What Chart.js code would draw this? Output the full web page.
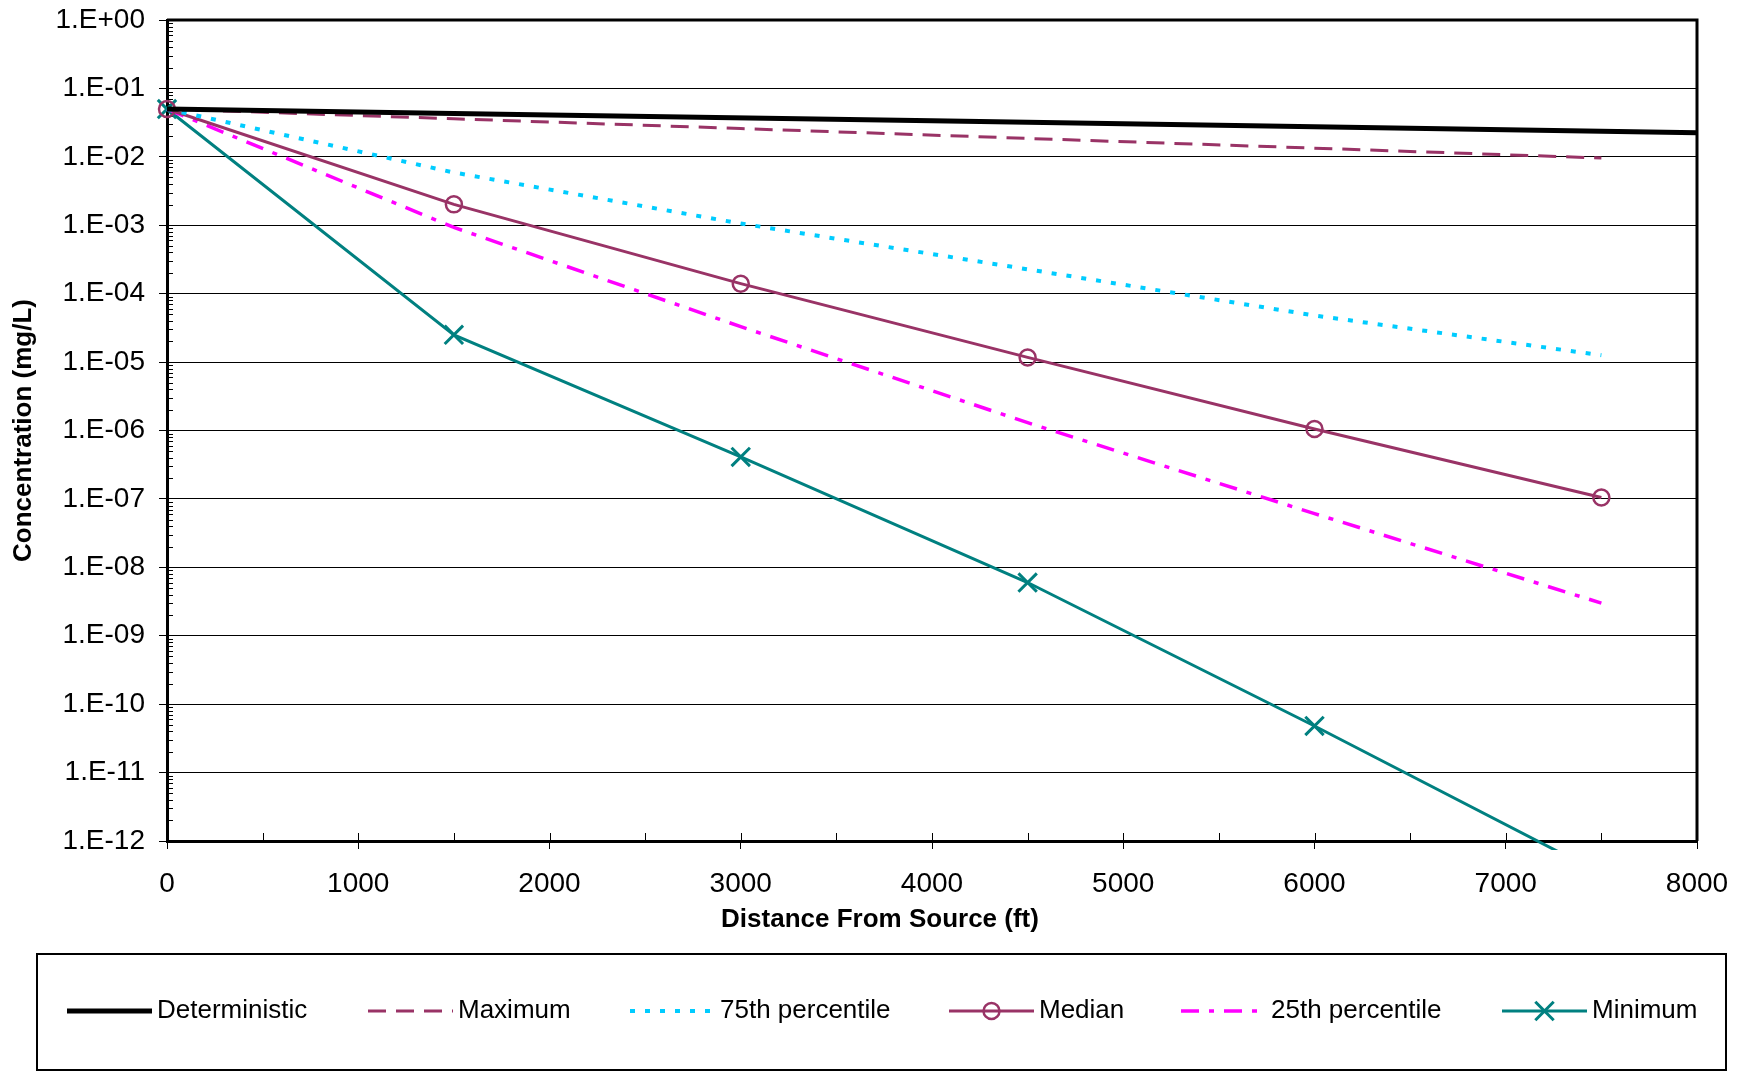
<!DOCTYPE html>
<html>
<head>
<meta charset="utf-8">
<title>Concentration vs Distance From Source</title>
<script src="https://cdn.jsdelivr.net/npm/chart.js@4.4.1/dist/chart.umd.min.js"></script>
<style>
  html, body { margin: 0; padding: 0; background: #fff; }
  #chart { display: block; }
</style>
</head>
<body>
<canvas id="chart" width="1747" height="1073"></canvas>
<script>
// distances (ft) where the percentile curves were evaluated
const distance = [0, 1500, 3000, 4500, 6000, 7500];
const detDistance = [0, 2000, 4000, 6000, 8000, 8040];

// concentrations (mg/L)
const deterministic = [0.05, 0.041, 0.0336, 0.0275, 0.0225, 0.0224];
const maximum = [0.05, 0.036, 0.0259, 0.0186, 0.0134, 0.0096];
const pct75 = [0.05, 5.9e-3, 1.06e-3, 2.27e-4, 4.8e-5, 1.26e-5];
const median = [0.05, 2.02e-3, 1.4e-4, 1.17e-5, 1.05e-6, 1.05e-7];
const pct25 = [0.05, 9.3e-4, 3.3e-5, 1.3e-6, 6.1e-8, 3.0e-9];
const minimum = [0.05, 2.5e-5, 4.1e-7, 6.0e-9, 4.8e-11, 3.3e-13];

const xTicks = [0, 1000, 2000, 3000, 4000, 5000, 6000, 7000, 8000];
const yTicks = [1, 1e-1, 1e-2, 1e-3, 1e-4, 1e-5, 1e-6, 1e-7, 1e-8, 1e-9, 1e-10, 1e-11, 1e-12];

const FONT = '"Liberation Sans", Arial, sans-serif';

function pts(xs, ys) {
  return xs.map((x, i) => ({ x: x, y: ys[i] }));
}

// 1e-3 -> "1.E-03"
function sciLabel(v) {
  const e = Math.round(Math.log10(v));
  const sign = e < 0 ? '-' : '+';
  return '1.E' + sign + String(Math.abs(e)).padStart(2, '0');
}

const clipBox = { left: 12, top: 10, right: 10, bottom: 9 };

// stop the scales from pushing the plot area around
function noPad(scale) {
  scale.paddingTop = 0;
  scale.paddingBottom = 0;
  scale.paddingLeft = 0;
  scale.paddingRight = 0;
}

// plot frame, minor ticks, x title and the boxed legend (Excel look)
const excelFrame = {
  id: 'excelFrame',
  beforeDatasetsDraw(chart) {
    const { ctx, chartArea: a } = chart;
    const xs = chart.scales.x, ys = chart.scales.y;
    ctx.save();
    ctx.strokeStyle = '#000';
    ctx.lineWidth = 3;
    ctx.beginPath();
    ctx.moveTo(a.left, a.top);
    ctx.lineTo(a.right, a.top);
    ctx.lineTo(a.right, a.bottom);
    ctx.stroke();

    ctx.lineWidth = 1;
    ctx.beginPath();
    // log minor ticks on the inside of the y axis
    for (let e = -12; e < 0; e++) {
      const d = Math.pow(10, e);
      for (let m = 2; m <= 9; m++) {
        const y = Math.round(ys.getPixelForValue(m * d)) + 0.5;
        ctx.moveTo(a.left, y);
        ctx.lineTo(a.left + 6, y);
      }
    }
    // x ticks on the inside: majors and 500 ft minors
    for (let v = 0; v <= 8000; v += 500) {
      const x = Math.round(xs.getPixelForValue(v)) + 0.5;
      ctx.moveTo(x, a.bottom);
      ctx.lineTo(x, a.bottom - 8);
    }
    ctx.stroke();
    ctx.restore();
  },
  afterDraw(chart) {
    const { ctx } = chart;
    ctx.save();
    ctx.fillStyle = '#000';
    ctx.font = 'bold 26px ' + FONT;
    ctx.textAlign = 'center';
    ctx.textBaseline = 'middle';
    ctx.fillText('Distance From Source (ft)', 880, 920);

    // legend box
    ctx.strokeStyle = '#000';
    ctx.lineWidth = 2;
    ctx.strokeRect(37, 954, 1689, 116);

    const slots = [67, 368, 630, 949, 1181, 1502];
    const y = 1011;
    ctx.font = '26px ' + FONT;
    ctx.textAlign = 'left';
    chart.data.datasets.forEach((ds, i) => {
      const x0 = slots[i], x1 = x0 + 85, cx = (x0 + x1) / 2;
      ctx.strokeStyle = ds.borderColor;
      ctx.lineWidth = ds.borderWidth;
      ctx.setLineDash(ds.borderDash || []);
      ctx.beginPath();
      ctx.moveTo(x0, y);
      ctx.lineTo(x1, y);
      ctx.stroke();
      ctx.setLineDash([]);
      if (ds.pointRadius) {
        ctx.strokeStyle = ds.borderColor;
        ctx.lineWidth = ds.pointBorderWidth;
        ctx.beginPath();
        if (ds.pointStyle === 'circle') {
          ctx.arc(cx, y, ds.pointRadius, 0, Math.PI * 2);
        } else {
          const r = ds.pointRadius * Math.SQRT1_2;
          ctx.moveTo(cx - r, y - r); ctx.lineTo(cx + r, y + r);
          ctx.moveTo(cx + r, y - r); ctx.lineTo(cx - r, y + r);
        }
        ctx.stroke();
      }
      ctx.fillStyle = '#000';
      ctx.fillText(ds.label, x1 + 5, y);
    });
    ctx.restore();
  }
};

new Chart(document.getElementById('chart'), {
  type: 'line',
  data: {
    datasets: [
      {
        label: 'Deterministic',
        data: pts(detDistance, deterministic),
        borderColor: '#000000',
        borderWidth: 5,
        pointRadius: 0
      },
      {
        label: 'Maximum',
        data: pts(distance, maximum),
        borderColor: '#993366',
        borderWidth: 3,
        borderDash: [18, 10],
        pointRadius: 0
      },
      {
        label: '75th percentile',
        data: pts(distance, pct75),
        borderColor: '#00CCFF',
        borderWidth: 4,
        borderDash: [5, 10],
        pointRadius: 0
      },
      {
        label: 'Median',
        data: pts(distance, median),
        borderColor: '#993366',
        borderWidth: 3,
        pointStyle: 'circle',
        pointRadius: 8,
        pointBorderWidth: 2.5,
        pointBackgroundColor: 'rgba(0,0,0,0)',
        pointBorderColor: '#993366'
      },
      {
        label: '25th percentile',
        data: pts(distance, pct25),
        borderColor: '#FF00FF',
        borderWidth: 3.5,
        borderDash: [18, 10, 5, 10],
        pointRadius: 0
      },
      {
        label: 'Minimum',
        data: pts(distance, minimum),
        borderColor: '#008080',
        borderWidth: 3,
        pointStyle: 'crossRot',
        pointRadius: 13,
        pointBorderWidth: 3,
        pointBorderColor: '#008080'
      }
    ].map(ds => Object.assign({ clip: clipBox, tension: 0, fill: false }, ds))
  },
  options: {
    responsive: false,
    animation: false,
    events: [],
    layout: { padding: { left: 0, top: 20, right: 50, bottom: 133 } },
    scales: {
      x: {
        type: 'linear',
        min: 0,
        max: 8000,
        afterBuildTicks: (scale) => { scale.ticks = xTicks.map(v => ({ value: v })); },
        afterFit: (scale) => { scale.height = 99; noPad(scale); },
        ticks: {
          autoSkip: false,
          maxRotation: 0,
          padding: 18,
          color: '#000',
          font: { family: FONT, size: 28 },
          callback: (v) => String(v)
        },
        grid: { drawOnChartArea: false, color: '#000', lineWidth: 1, tickLength: 8 },
        border: { display: true, color: '#000', width: 3 },
        title: { display: false }
      },
      y: {
        type: 'logarithmic',
        min: 1e-12,
        max: 1,
        afterBuildTicks: (scale) => { scale.ticks = yTicks.map(v => ({ value: v })); },
        afterFit: (scale) => { scale.width = 167; noPad(scale); },
        ticks: {
          autoSkip: false,
          padding: 14,
          color: '#000',
          font: { family: FONT, size: 28 },
          callback: (v) => sciLabel(v)
        },
        grid: { color: '#000', lineWidth: 1, tickLength: 8 },
        border: { display: true, color: '#000', width: 3 },
        title: {
          display: true,
          text: 'Concentration (mg/L)',
          color: '#000',
          font: { family: FONT, size: 26, weight: 'bold' },
          padding: { top: 8, bottom: 0 }
        }
      }
    },
    plugins: {
      legend: { display: false },
      tooltip: { enabled: false }
    }
  },
  plugins: [excelFrame]
});
</script>
</body>
</html>
